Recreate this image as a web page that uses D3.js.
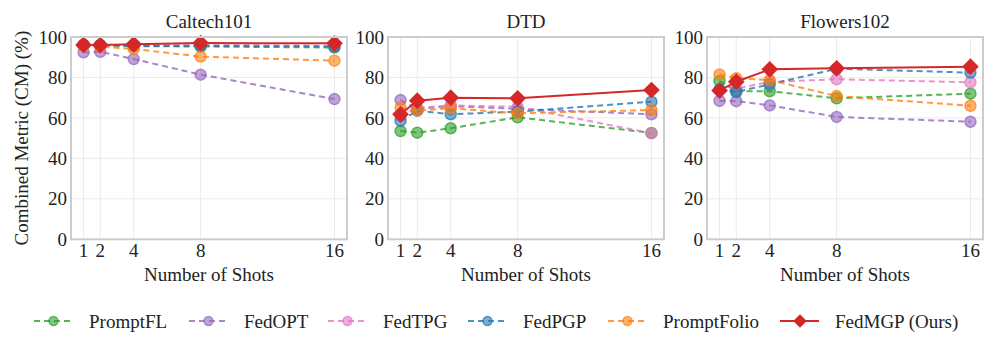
<!DOCTYPE html>
<html>
<head>
<meta charset="utf-8">
<script src="https://cdn.jsdelivr.net/npm/d3@7"></script>
<style>
  body { margin: 0; background: #fff; }
</style>
</head>
<body>
<div id="chart"></div>
<script>
var shots = [1, 2, 4, 8, 16];
var yTicks = [0, 20, 40, 60, 80, 100];
var datasets = ["Caltech101", "DTD", "Flowers102"];
var methods = ["PromptFL", "FedOPT", "FedTPG", "FedPGP", "PromptFolio", "FedMGP (Ours)"];
var colors = ["#2ca02c", "#9467bd", "#e377c2", "#1f77b4", "#ff7f0e", "#d62728"];

// values per dataset, one row per method (same order as methods)
var caltech = [
    [96.0, 95.8, 95.5, 95.3, 94.8],
    [92.4, 92.7, 89.1, 81.4, 69.3],
    [95.8, 95.9, 95.9, 96.0, 95.7],
    [96.2, 96.0, 95.5, 95.6, 95.3],
    [95.8, 95.3, 94.1, 90.3, 88.3],
    [96.1, 96.0, 96.4, 97.0, 96.9]
];
var dtd = [
    [53.5, 52.7, 54.9, 60.3, 52.6],
    [68.8, 64.5, 65.8, 64.5, 61.8],
    [61.0, 65.0, 66.2, 65.5, 52.4],
    [58.5, 63.6, 61.8, 63.1, 68.0],
    [65.1, 63.6, 64.7, 62.3, 63.9],
    [61.8, 68.5, 70.0, 69.7, 73.8]
];
var flowers = [
    [78.3, 73.2, 73.2, 69.7, 72.0],
    [68.4, 68.3, 66.2, 60.5, 58.1],
    [74.0, 74.5, 77.8, 79.1, 77.6],
    [74.0, 72.8, 76.6, 84.3, 82.4],
    [81.5, 79.6, 78.7, 70.8, 66.0],
    [73.5, 77.9, 84.0, 84.5, 85.3]
];
var allValues = [caltech, dtd, flowers];

(function () {
    var width = 997, height = 353;
    var panelLeft = [71, 388, 707];
    var panelWidth = 276;
    var plotTop = 37, plotBottom = 239.3;
    var font = "'Liberation Serif', 'DejaVu Serif', 'Times New Roman', serif";

    var svg = d3.select("#chart").append("svg")
        .attr("width", width)
        .attr("height", height)
        .attr("font-family", font)
        .attr("font-size", 19)
        .attr("fill", "#222");

    var y = d3.scaleLinear().domain([0, 100]).range([plotBottom, plotTop]);
    var diamond = d3.symbol().type(d3.symbolSquare);

    datasets.forEach((name, p) => {
        var x = d3.scaleLinear()
            .domain([0.25, 16.75])
            .range([panelLeft[p], panelLeft[p] + panelWidth]);

        var g = svg.append("g");

        // grid
        g.selectAll(".hgrid").data(yTicks).enter().append("line")
            .attr("x1", x.range()[0]).attr("x2", x.range()[1])
            .attr("y1", d => y(d)).attr("y2", d => y(d))
            .attr("stroke", "#ebebeb").attr("stroke-width", 1);
        g.selectAll(".vgrid").data(shots).enter().append("line")
            .attr("x1", d => x(d)).attr("x2", d => x(d))
            .attr("y1", plotTop).attr("y2", plotBottom)
            .attr("stroke", "#ebebeb").attr("stroke-width", 1);

        // tick labels
        g.selectAll(".ylab").data(yTicks).enter().append("text")
            .attr("x", x.range()[0] - 4)
            .attr("y", d => y(d))
            .attr("dy", "0.35em")
            .attr("text-anchor", "end")
            .text(d => d);
        g.selectAll(".xlab").data(shots).enter().append("text")
            .attr("x", d => x(d))
            .attr("y", plotBottom + 18)
            .attr("text-anchor", "middle")
            .text(d => d);

        // title and x label
        g.append("text")
            .attr("x", x.range()[0] + panelWidth / 2)
            .attr("y", 28)
            .attr("text-anchor", "middle")
            .text(name);
        g.append("text")
            .attr("x", x.range()[0] + panelWidth / 2)
            .attr("y", 281)
            .attr("text-anchor", "middle")
            .text("Number of Shots");

        var line = d3.line().x((d, i) => x(shots[i])).y(d => y(d));

        allValues[p].forEach((vals, m) => {
            var mg = g.append("g");
            var isOurs = m === methods.length - 1;
            mg.append("path")
                .datum(vals)
                .attr("d", line)
                .attr("fill", "none")
                .attr("stroke", colors[m])
                .attr("stroke-width", 2)
                .attr("stroke-opacity", isOurs ? 1 : 0.8)
                .attr("stroke-dasharray", isOurs ? null : "6,4");
            if (isOurs) {
                mg.selectAll("path.mk").data(vals).enter().append("path")
                    .attr("class", "mk")
                    .attr("d", diamond.size(140))
                    .attr("transform", (d, i) => "translate(" + x(shots[i]) + "," + y(d) + ") rotate(45)")
                    .attr("fill", colors[m]);
            } else {
                mg.selectAll("circle").data(vals).enter().append("circle")
                    .attr("cx", (d, i) => x(shots[i]))
                    .attr("cy", d => y(d))
                    .attr("r", 5.5)
                    .attr("fill", colors[m])
                    .attr("fill-opacity", 0.6)
                    .attr("stroke", colors[m])
                    .attr("stroke-opacity", 0.7)
                    .attr("stroke-width", 1.5);
            }
        });

        // frame
        g.append("rect")
            .attr("x", x.range()[0]).attr("y", plotTop)
            .attr("width", panelWidth).attr("height", plotBottom - plotTop)
            .attr("fill", "none")
            .attr("stroke", "#cccccc")
            .attr("stroke-width", 2);
    });

    // y axis label
    svg.append("text")
        .attr("transform", "translate(28," + (plotTop + plotBottom) / 2 + ") rotate(-90)")
        .attr("text-anchor", "middle")
        .text("Combined Metric (CM) (%)");

    // legend
    var legendX = [34, 189, 328, 468, 608, 780];
    var legendY = 321;
    var leg = svg.selectAll(".legend").data(methods).enter().append("g")
        .attr("transform", (d, i) => "translate(" + legendX[i] + "," + legendY + ")");
    leg.append("line")
        .attr("x1", 0).attr("x2", 39)
        .attr("stroke", (d, i) => colors[i])
        .attr("stroke-width", 2)
        .attr("stroke-opacity", (d, i) => i === 5 ? 1 : 0.8)
        .attr("stroke-dasharray", (d, i) => i === 5 ? null : "6,4");
    leg.each(function (d, i) {
        var s = d3.select(this);
        if (i === 5) {
            s.append("path")
                .attr("d", diamond.size(90))
                .attr("transform", "translate(20,0) rotate(45)")
                .attr("fill", colors[i]);
        } else {
            s.append("circle")
                .attr("cx", 19.5).attr("r", 4.5)
                .attr("fill", colors[i]).attr("fill-opacity", 0.6)
                .attr("stroke", colors[i]).attr("stroke-opacity", 0.7)
                .attr("stroke-width", 1.5);
        }
    });
    leg.append("text")
        .attr("x", 55)
        .attr("dy", "0.35em")
        .text(d => d);
})();
</script>
</body>
</html>
